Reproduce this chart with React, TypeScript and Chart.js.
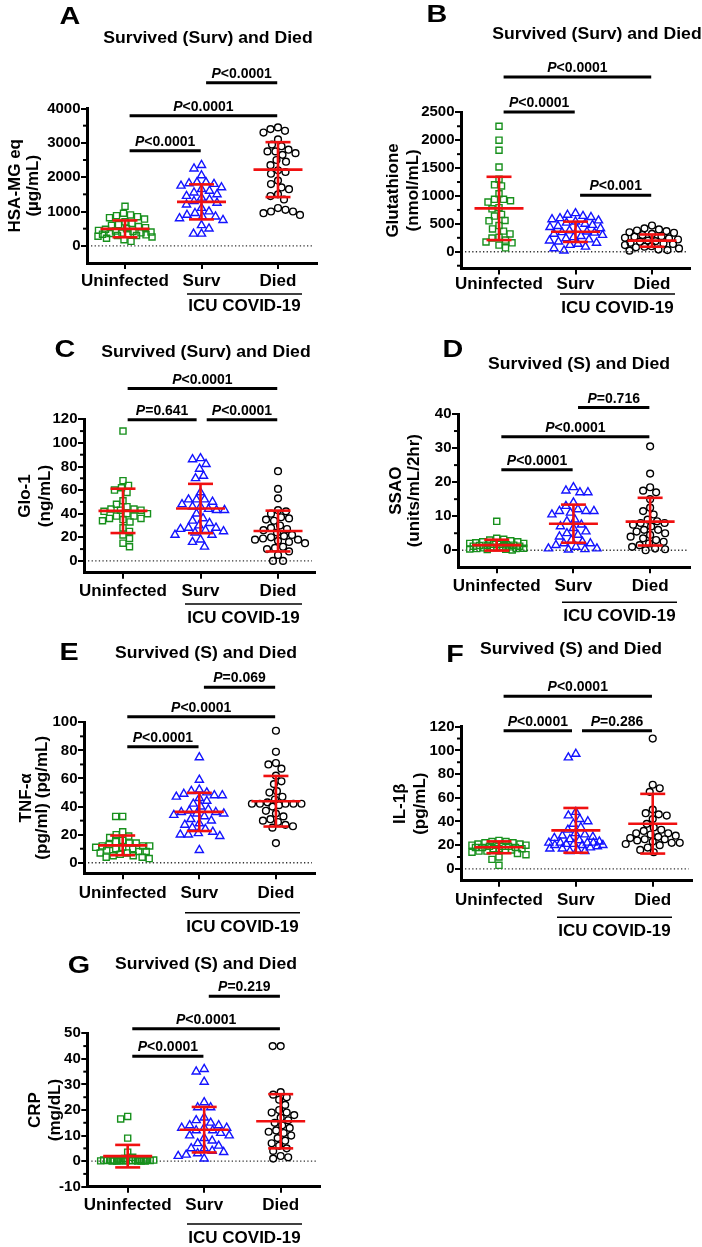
import React, { useEffect, useRef } from "react";
import { Chart, registerables } from "chart.js";
Chart.register(...registerables);

const FONT = '"Liberation Sans", Arial, Helvetica, sans-serif';
const RED = "#f01010";
const categories = ["Uninfected", "Surv", "Died"];

// ---------- Panel A : HSA-MG eq ----------
const uninfA = [1150, 950, 900, 880, 850, 820, 780, 700, 650, 620, 600, 560, 530, 500, 480, 450, 430, 420, 400, 380, 370, 360, 350, 340, 320, 300, 300, 280, 260, 220, 180, 130];
const survA = [2350, 2250, 2050, 1850, 1850, 1820, 1800, 1750, 1700, 1650, 1600, 1550, 1500, 1450, 1400, 1350, 1300, 1250, 1200, 1100, 1000, 950, 900, 850, 850, 800, 750, 600, 500, 350, 350];
const diedA = [3450, 3400, 3350, 3300, 3100, 2950, 2900, 2800, 2750, 2750, 2700, 2650, 2500, 2450, 2350, 2200, 2150, 2100, 1900, 1800, 1700, 1650, 1500, 1450, 1350, 1100, 1050, 1000, 1000, 950, 900];
const meanA = [495, 1280, 2220];
const sdA = [245, 510, 800];
const yTicksA = [0, 1000, 2000, 3000, 4000];
const sigA = [
  { pair: [1, 2], y: 4750, p: "<0.0001" },
  { pair: [0, 2], y: 3790, p: "<0.0001" },
  { pair: [0, 1], y: 2770, p: "<0.0001" },
];

// ---------- Panel B : Glutathione ----------
const uninfB = [2250, 2000, 1820, 1520, 1300, 1200, 1180, 1040, 940, 940, 915, 890, 790, 770, 670, 640, 560, 555, 470, 410, 370, 320, 260, 245, 210, 175, 160, 120, 70];
const survB = [690, 660, 640, 620, 600, 580, 560, 540, 520, 500, 480, 460, 440, 420, 400, 380, 360, 350, 340, 320, 300, 280, 260, 240, 220, 200, 180, 160, 140, 120, 90, 60, 20];
const diedB = [470, 420, 400, 380, 370, 350, 340, 320, 300, 280, 270, 250, 240, 220, 200, 190, 180, 160, 150, 140, 120, 100, 90, 80, 60, 40, 30, 20];
const meanB = [777, 358, 200];
const sdB = [567, 182, 110];
const yTicksB = [0, 500, 1000, 1500, 2000, 2500];
const sigB = [
  { pair: [0, 2], y: 3135, p: "<0.0001" },
  { pair: [0, 1], y: 2505, p: "<0.0001" },
  { pair: [1, 2], y: 1012, p: "<0.001" },
];

// ---------- Panel C : Glo-1 ----------
const uninfC = [110, 68, 64, 62, 60, 58, 51, 48, 46, 44, 44, 43, 43, 42, 40, 40, 38, 38, 36, 36, 35, 34, 33, 28, 25, 22, 19, 15, 12];
const survC = [87, 86, 82, 78, 72, 70, 58, 52, 52, 52, 50, 48, 46, 46, 44, 43, 43, 40, 36, 34, 32, 30, 28, 28, 27, 26, 25, 24, 22, 22, 18, 16, 12];
const diedC = [76, 61, 53, 43, 42, 40, 37, 36, 35, 34, 30, 28, 27, 26, 24, 22, 21, 20, 19, 18, 18, 17, 16, 15, 12, 11, 10, 8, 5, 0, 0];
const meanC = [42.4, 44.4, 25.3];
const sdC = [18.8, 20.9, 17.3];
const yTicksC = [0, 20, 40, 60, 80, 100, 120];
const sigC = [
  { pair: [0, 2], y: 146, p: "<0.0001" },
  { pair: [0, 1], y: 119.7, p: "=0.641" },
  { pair: [1, 2], y: 119.7, p: "<0.0001" },
];

// ---------- Panel D : SSAO ----------
const uninfD = [8.5, 3.5, 3.2, 3, 2.8, 2.5, 2.5, 2.2, 2, 2, 1.8, 1.8, 1.6, 1.5, 1.5, 1.4, 1.2, 1.2, 1, 1, 0.9, 0.8, 0.7, 0.6, 0.5, 0.5, 0.4, 0.3, 0.2, 0.1];
const survD = [18.5, 17.5, 17, 17, 14, 13, 12, 11.5, 11.5, 11.5, 11, 10.5, 9, 8.5, 7.5, 7, 6.5, 5.5, 5, 4.5, 4, 3, 2.5, 2, 2, 1.5, 1, 0.5, 0.5, 0.3, 0.2];
const diedD = [30.5, 22.5, 18.5, 17.5, 17, 15, 12.5, 11.5, 10.5, 9, 8.5, 8, 8, 7.5, 7, 6, 6, 5.5, 5, 4.5, 4, 3.5, 3, 2.5, 2, 1.5, 1, 0.5, 0.3, 0];
const meanD = [1.5, 7.8, 8.4];
const sdD = [1.6, 5.6, 7];
const yTicksD = [0, 10, 20, 30, 40];
const sigD = [
  { pair: [1, 2], y: 41.9, p: "=0.716" },
  { pair: [0, 2], y: 33.3, p: "<0.0001" },
  { pair: [0, 1], y: 23.6, p: "<0.0001" },
];

// ---------- Panel E : TNF-alpha ----------
const uninfE = [33, 33, 22, 20, 19, 18, 16, 15, 14, 14, 13, 12, 12, 12, 11, 11, 10, 10, 9, 8, 8, 7, 7, 6, 5, 5, 4, 4, 3];
const survE = [75, 59, 52, 51, 50, 49, 48, 48, 47, 46, 44, 42, 40, 38, 37, 36, 36, 35, 35, 34, 33, 31, 30, 28, 27, 25, 24, 22, 21, 20, 20, 19, 9];
const diedE = [94, 79, 71, 70, 67, 62, 58, 56, 51, 50, 47, 45, 43, 42, 42, 42, 42, 42, 41, 40, 37, 35, 33, 31, 30, 29, 27, 26, 25, 14];
const meanE = [12.4, 36.2, 43.8];
const sdE = [7, 13.6, 18];
const yTicksE = [0, 20, 40, 60, 80, 100];
const sigE = [
  { pair: [1, 2], y: 125, p: "=0.069" },
  { pair: [0, 2], y: 104, p: "<0.0001" },
  { pair: [0, 1], y: 82.6, p: "<0.0001" },
];

// ---------- Panel F : IL-1beta ----------
const uninfF = [24, 23, 23, 22, 22, 21, 21, 20, 20, 20, 19, 19, 19, 18, 18, 18, 17, 17, 17, 16, 16, 15, 15, 14, 13, 12, 10, 8, 3];
const survF = [97, 94, 48, 45, 42, 40, 38, 35, 33, 30, 29, 28, 27, 26, 25, 24, 23, 22, 22, 22, 22, 21, 21, 20, 20, 20, 19, 18, 17, 17, 16, 15, 15];
const diedF = [110, 71, 68, 65, 50, 47, 46, 45, 42, 38, 35, 33, 32, 30, 30, 29, 28, 27, 26, 25, 25, 24, 23, 22, 22, 21, 20, 18, 16, 14];
const meanF = [18.2, 32.5, 38.1];
const sdF = [5, 18.9, 25.2];
const yTicksF = [0, 20, 40, 60, 80, 100, 120];
const sigF = [
  { pair: [0, 2], y: 145.6, p: "<0.0001" },
  { pair: [0, 1], y: 116.5, p: "<0.0001" },
  { pair: [1, 2], y: 116.5, p: "=0.286" },
];

// ---------- Panel G : CRP ----------
const uninfG = [17.5, 16.5, 9, 3.5, 1.5, 1, 0.8, 0.6, 0.5, 0.5, 0.4, 0.4, 0.3, 0.3, 0.3, 0.2, 0.2, 0.2, 0.2, 0.1, 0.1, 0.1, 0.1, 0.1, 0, 0, 0, 0, 0];
const survG = [36, 35, 31, 23, 21, 21, 17, 16, 15, 14, 14, 13, 13, 13, 12, 12, 11, 10, 10, 9, 8, 7, 6, 5, 5, 4, 3.5, 3, 2.5, 2, 1];
const diedG = [45, 45, 27, 26, 25, 24, 22, 20, 19, 19, 18, 17, 16, 15, 14, 13, 12, 11.5, 11, 10, 9, 8, 7, 6, 5, 4, 2, 1.5, 1];
const meanG = [1.95, 12.3, 15.6];
const sdG = [4.4, 8.9, 10.6];
const yTicksG = [-10, 0, 10, 20, 30, 40, 50];
const sigG = [
  { pair: [1, 2], y: 64.5, p: "=0.219" },
  { pair: [0, 2], y: 51.8, p: "<0.0001" },
  { pair: [0, 1], y: 41, p: "<0.0001" },
];

type Sig = { pair: number[]; y: number; p: string };
type PanelCfg = {
  letter: string;
  title: string;
  yTitle: [string, string];
  groups: number[][];
  means: number[];
  sds: number[];
  sig: Sig[];
  yTicks: number[];
  box: number[]; // x y w h (page)
  area: number[]; // l t r b (page)
  yRange: number[];
  xRange: number[];
  letterPos: number[];
  titlePos: number[];
  yTitleX: number[];
  labelY: number;
  bracket: number[]; // y x1 x2
  icuY: number;
};

const STYLES = [
  { pointStyle: "rect", radius: 4.3, color: "#17901c", diam: 7 },
  { pointStyle: "triangle", radius: 4.7, color: "#1414ff", diam: 8 },
  { pointStyle: "circle", radius: 3.4, color: "#000000", diam: 7.6 },
];

const panels: PanelCfg[] = [
  {
    letter: "A", title: "Survived (Surv) and Died", yTitle: ["HSA-MG eq", "(\u00b5g/mL)"],
    groups: [uninfA, survA, diedA], means: meanA, sds: sdA, sig: sigA, yTicks: yTicksA,
    box: [0, 0, 351, 320], area: [87, 108.5, 317, 263], yRange: [-500, 4000], xRange: [-0.497, 2.51],
    letterPos: [70, 24], titlePos: [208, 43.3], yTitleX: [19.5, 37.8], labelY: 281,
    bracket: [294, 187, 302], icuY: 310.7,
  },
  {
    letter: "B", title: "Survived (Surv) and Died", yTitle: ["Glutathione", "(nmol/mL)"],
    groups: [uninfB, survB, diedB], means: meanB, sds: sdB, sig: sigB, yTicks: yTicksB,
    box: [351, 0, 351, 320], area: [461, 112.3, 690, 268.5], yRange: [-300, 2500], xRange: [-0.497, 2.497],
    letterPos: [437, 21.7], titlePos: [597, 39.3], yTitleX: [398, 418], labelY: 283.3,
    bracket: [294, 560, 675], icuY: 312.7,
  },
  {
    letter: "C", title: "Survived (Surv) and Died", yTitle: ["Glo-1", "(ng/mL)"],
    groups: [uninfC, survC, diedC], means: meanC, sds: sdC, sig: sigC, yTicks: yTicksC,
    box: [0, 320, 351, 310], area: [84, 419.3, 315, 572.7], yRange: [-10, 120], xRange: [-0.503, 2.477],
    letterPos: [65, 356.7], titlePos: [206, 356.7], yTitleX: [30, 50], labelY: 590.5,
    bracket: [604, 185, 302], icuY: 623.3,
  },
  {
    letter: "D", title: "Survived (S) and Died", yTitle: ["SSAO", "(units/mL/2hr)"],
    groups: [uninfD, survD, diedD], means: meanD, sds: sdD, sig: sigD, yTicks: yTicksD,
    box: [351, 320, 351, 310], area: [458, 414, 690, 567.3], yRange: [-5, 40], xRange: [-0.505, 2.52],
    letterPos: [453, 356.7], titlePos: [579, 369], yTitleX: [401, 419], labelY: 585.7,
    bracket: [602.3, 562, 677], icuY: 620.7,
  },
  {
    letter: "E", title: "Survived (S) and Died", yTitle: ["TNF-\u03b1", "(pg/ml) (pg/mL)"],
    groups: [uninfE, survE, diedE], means: meanE, sds: sdE, sig: sigE, yTicks: yTicksE,
    box: [0, 630, 351, 315], area: [84, 722.3, 315, 873.3], yRange: [-7.5, 100], xRange: [-0.505, 2.51],
    letterPos: [69, 660], titlePos: [206, 657.7], yTitleX: [31, 46.5], labelY: 893,
    bracket: [912.7, 185, 300], icuY: 932.3,
  },
  {
    letter: "F", title: "Survived (S) and Died", yTitle: ["IL-1\u03b2", "(pg/mL)"],
    groups: [uninfF, survF, diedF], means: meanF, sds: sdF, sig: sigF, yTicks: yTicksF,
    box: [351, 630, 351, 315], area: [461, 726.7, 691.7, 880.7], yRange: [-10, 120], xRange: [-0.494, 2.507],
    letterPos: [455, 661.7], titlePos: [571, 654], yTitleX: [405, 425], labelY: 899.3,
    bracket: [917.3, 557, 672], icuY: 935.7,
  },
  {
    letter: "G", title: "Survived (S) and Died", yTitle: ["CRP", "(mg/dL)"],
    groups: [uninfG, survG, diedG], means: meanG, sds: sdG, sig: sigG, yTicks: yTicksG,
    box: [0, 945, 351, 302], area: [87.3, 1033.3, 320, 1186.7], yRange: [-10, 50], xRange: [-0.528, 2.514],
    letterPos: [79, 973.3], titlePos: [206, 969.3], yTitleX: [40, 59.5], labelY: 1205,
    bracket: [1224, 187, 302], icuY: 1242.7,
  },
];

// beeswarm: horizontal pixel offsets so markers do not overlap (limited width)
function swarm(values: number[], pxPerUnit: number, diam: number, maxW: number): number[] {
  const order = values.map((_, i) => i).sort((a, b) => values[b] - values[a]);
  const placed: { x: number; y: number }[] = [];
  const out = new Array(values.length).fill(0);
  order.forEach((i, n) => {
    const y = -values[i] * pxPerUnit;
    let best = 0;
    let bestScore = -1;
    let found = false;
    const signs = n % 2 === 0 ? [1, -1] : [-1, 1];
    for (let s = 0; s <= maxW && !found; s += 0.5) {
      for (const sg of s === 0 ? [1] : signs) {
        const x = s * sg;
        let minD = Infinity;
        for (const p of placed) {
          const d = Math.hypot(p.x - x, p.y - y);
          if (d < minD) minD = d;
        }
        if (minD >= diam) {
          best = x;
          found = true;
          break;
        }
        if (minD > bestScore + 0.01) {
          bestScore = minD;
          best = x;
        }
      }
    }
    placed.push({ x: best, y });
    out[i] = best;
  });
  return out;
}

function font(size: number, italic = false) {
  return `${italic ? "italic " : ""}bold ${size}px ${FONT}`;
}

function drawText(ctx: CanvasRenderingContext2D, s: string, x: number, y: number, size: number, sx = 1) {
  ctx.save();
  ctx.font = font(size);
  ctx.textAlign = "center";
  ctx.textBaseline = "alphabetic";
  ctx.fillStyle = "#000";
  ctx.translate(x, y);
  ctx.scale(sx, 1);
  ctx.fillText(s, 0, 0);
  ctx.restore();
}

function makePlugin(cfg: PanelCfg) {
  const bx = cfg.box[0];
  const by = cfg.box[1];
  return {
    id: "extras" + cfg.letter,
    beforeDatasetsDraw(chart: any) {
      const ctx: CanvasRenderingContext2D = chart.ctx;
      const ca = chart.chartArea;
      const y0 = chart.scales.y.getPixelForValue(0);
      ctx.save();
      ctx.strokeStyle = "#333";
      ctx.lineWidth = 1.3;
      ctx.setLineDash([1.3, 2.3]);
      ctx.beginPath();
      ctx.moveTo(ca.left + 4, y0);
      ctx.lineTo(ca.right - 3, y0);
      ctx.stroke();
      ctx.restore();
    },
    afterDatasetsDraw(chart: any) {
      const ctx: CanvasRenderingContext2D = chart.ctx;
      const xs = chart.scales.x;
      const ys = chart.scales.y;
      ctx.save();
      ctx.strokeStyle = RED;
      ctx.lineWidth = 2.6;
      const seg = (x1: number, y1: number, x2: number, y2: number) => {
        ctx.beginPath();
        ctx.moveTo(x1, y1);
        ctx.lineTo(x2, y2);
        ctx.stroke();
      };
      cfg.means.forEach((m, gi) => {
        const cx = xs.getPixelForValue(gi);
        const ym = ys.getPixelForValue(m);
        const yu = ys.getPixelForValue(m + cfg.sds[gi]);
        const yl = ys.getPixelForValue(m - cfg.sds[gi]);
        seg(cx, yu, cx, yl);
        seg(cx - 24.5, ym, cx + 24.5, ym);
        seg(cx - 12.5, yu, cx + 12.5, yu);
        seg(cx - 12.5, yl, cx + 12.5, yl);
      });
      ctx.restore();
    },
    afterDraw(chart: any) {
      const ctx: CanvasRenderingContext2D = chart.ctx;
      const xs = chart.scales.x;
      const ys = chart.scales.y;
      const ca = chart.chartArea;
      ctx.save();
      ctx.strokeStyle = "#000";
      ctx.fillStyle = "#000";
      // minor ticks
      const step = cfg.yTicks[1] - cfg.yTicks[0];
      const half = step / 2;
      const k0 = Math.ceil(cfg.yRange[0] / half);
      const k1 = Math.floor(cfg.yRange[1] / half);
      ctx.lineWidth = 2;
      for (let k = k0; k <= k1; k++) {
        const v = k * half;
        if (Math.abs(k) % 2 === 1 && v > cfg.yRange[0] && v < cfg.yRange[1]) {
          const y = ys.getPixelForValue(v);
          ctx.beginPath();
          ctx.moveTo(ca.left - 4, y);
          ctx.lineTo(ca.left, y);
          ctx.stroke();
        }
      }
      // significance bars
      cfg.sig.forEach((s) => {
        const [i, j] = s.pair;
        let a = i + 0.06;
        let b = j - 0.01;
        cfg.sig.forEach((o) => {
          if (o === s || o.y !== s.y) return;
          if (o.pair[0] === j) b = j - 0.05;
          if (o.pair[1] === i) a = i + 0.08;
        });
        const x1 = xs.getPixelForValue(a);
        const x2 = xs.getPixelForValue(b);
        const y = ys.getPixelForValue(s.y);
        ctx.lineWidth = 3;
        ctx.beginPath();
        ctx.moveTo(x1, y);
        ctx.lineTo(x2, y);
        ctx.stroke();
        ctx.font = font(14, true);
        const wP = ctx.measureText("P").width;
        ctx.font = font(14);
        const wR = ctx.measureText(s.p).width;
        const start = (x1 + x2) / 2 - (wP + wR) / 2;
        ctx.textAlign = "left";
        ctx.textBaseline = "alphabetic";
        ctx.font = font(14, true);
        ctx.fillText("P", start, y - 5);
        ctx.font = font(14);
        ctx.fillText(s.p, start + wP, y - 5);
      });
      // ICU COVID-19 bracket
      const [bYy, bX1, bX2] = cfg.bracket;
      ctx.lineWidth = 1.6;
      ctx.beginPath();
      ctx.moveTo(bX1 - bx, bYy - by);
      ctx.lineTo(bX2 - bx, bYy - by);
      ctx.stroke();
      drawText(ctx, "ICU COVID-19", (bX1 + bX2) / 2 - bx, cfg.icuY - by, 17);
      // letter and title
      drawText(ctx, cfg.letter, cfg.letterPos[0] - bx, cfg.letterPos[1] - by, 23, 1.25);
      drawText(ctx, cfg.title, cfg.titlePos[0] - bx, cfg.titlePos[1] - by, 16, 1.1);
      // y-axis title, two rotated lines
      const cy = (ca.top + ca.bottom) / 2;
      cfg.yTitle.forEach((line, li) => {
        ctx.save();
        ctx.translate(cfg.yTitleX[li] - bx, cy);
        ctx.rotate(-Math.PI / 2);
        ctx.font = font(17);
        ctx.textAlign = "center";
        ctx.textBaseline = "alphabetic";
        ctx.fillText(line, 0, 0);
        ctx.restore();
      });
      ctx.restore();
    },
  };
}

function Panel({ cfg }: { cfg: PanelCfg }) {
  const ref = useRef<HTMLCanvasElement>(null);
  useEffect(() => {
    const [bx, by, bw, bh] = cfg.box;
    const [l, t, r, b] = cfg.area;
    const [ymin, ymax] = cfg.yRange;
    const [xmin, xmax] = cfg.xRange;
    const pxY = (b - t) / (ymax - ymin);
    const pxX = (r - l) / (xmax - xmin);
    const datasets = cfg.groups.map((vals, gi) => {
      const st = STYLES[gi];
      const offs = swarm(vals, pxY, st.diam, 27);
      return {
        data: vals.map((v, k) => ({ x: gi + offs[k] / pxX, y: v })),
        pointStyle: st.pointStyle,
        pointRadius: st.radius,
        pointBorderColor: st.color,
        pointBackgroundColor: "rgba(0,0,0,0)",
        pointBorderWidth: 1.4,
        borderColor: st.color,
        backgroundColor: "rgba(0,0,0,0)",
        showLine: false,
        clip: false,
      } as any;
    });
    const tickLen = 6;
    const labelPad = cfg.labelY + 0.8 - b - tickLen - (17 * 1.2) / 2;
    const axisGrid = { drawOnChartArea: false, drawTicks: true, tickLength: tickLen, color: "#000", lineWidth: 2 };
    const axisBorder = { display: true, color: "#000", width: 3 };
    const chart = new Chart(ref.current as HTMLCanvasElement, {
      type: "scatter",
      data: { datasets },
      options: {
        animation: false,
        responsive: false,
        maintainAspectRatio: false,
        events: [],
        layout: { padding: { left: 0, top: t - by, right: bx + bw - r, bottom: 0 } },
        plugins: { legend: { display: false }, tooltip: { enabled: false } },
        scales: {
          x: {
            type: "linear",
            min: xmin,
            max: xmax,
            afterBuildTicks: (s: any) => {
              s.ticks = [0, 1, 2].map((v) => ({ value: v }));
            },
            afterFit: (s: any) => {
              s.height = by + bh - b;
            },
            ticks: {
              callback: (_v: any, i: number) => categories[i],
              autoSkip: false,
              maxRotation: 0,
              minRotation: 0,
              padding: labelPad,
              color: "#000",
              font: { family: FONT, size: 17, weight: "bold", lineHeight: 1.2 },
            },
            grid: axisGrid,
            border: axisBorder,
          },
          y: {
            type: "linear",
            min: ymin,
            max: ymax,
            afterBuildTicks: (s: any) => {
              s.ticks = cfg.yTicks.map((v) => ({ value: v }));
            },
            afterFit: (s: any) => {
              s.width = l - bx;
            },
            ticks: {
              callback: (v: any) => String(v),
              autoSkip: false,
              padding: 0.5,
              color: "#000",
              font: { family: FONT, size: 15, weight: "bold" },
            },
            grid: axisGrid,
            border: axisBorder,
          },
        },
      } as any,
      plugins: [makePlugin(cfg) as any],
    });
    return () => chart.destroy();
  }, [cfg]);
  const [bx, by, bw, bh] = cfg.box;
  return (
    <canvas
      ref={ref}
      width={bw}
      height={bh}
      style={{ position: "absolute", left: bx, top: by, width: bw, height: bh }}
    />
  );
}

export default function App() {
  return (
    <div style={{ position: "absolute", left: 0, top: 0, width: 702, height: 1247, background: "#fff" }}>
      {panels.map((p) => (
        <Panel key={p.letter} cfg={p} />
      ))}
    </div>
  );
}
